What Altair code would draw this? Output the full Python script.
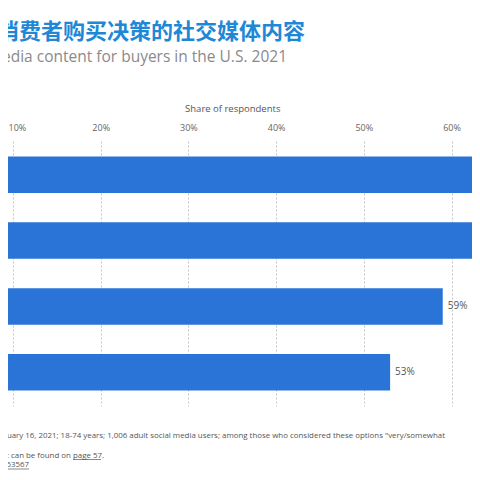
import altair as alt
import pandas as pd

# ---- data ----
categories = ["Option A", "Option B", "Option C", "Option D"]
shares = [65, 63, 59, 53]
tick_values = [0, 10, 20, 30, 40, 50, 60, 70]

title_text = "影响消费者购买决策的社交媒体内容"
subtitle_text = "Most influential social media content for buyers in the U.S. 2021"
footer_1 = ('United States; February 16, 2021; 18-74 years; 1,006 adult social media users; '
            'among those who considered these options "very/somewhat')
footer_2 = "Further information regarding this statistic can be found on page 57."
footer_3 = "https://www.statista.com/statistics/1253567"

df = pd.DataFrame({"category": categories, "share": shares})
df["label"] = [f"{v}%" for v in shares]

FONT = "Open Sans"
BAR = "#2a74d8"
FOOT = "#555555"

xscale = alt.Scale(domain=[0, 70], range=[-82.7, 531.2], nice=False, zero=True)
yscale = alt.Scale(paddingInner=0.445, paddingOuter=0.236)

base = alt.Chart(df)

bars = base.mark_bar(color=BAR, clip=True).encode(
    x=alt.X(
        "share:Q",
        scale=xscale,
        axis=alt.Axis(
            orient="top",
            values=tick_values,
            labelExpr="datum.value + '%'",
            labelAlign={"condition": {"test": "datum.value == 10", "value": "left"}, "value": "center"},
            labelOffset={"condition": {"test": "datum.value == 10", "value": -5}, "value": 0},
            grid=True,
            gridDash=[2, 2],
            gridColor="#c4c4c4",
            gridWidth=1,
            domain=False,
            ticks=False,
            tickSize=0,
            labelPadding=9,
            labelFontSize=9,
            labelColor="#666666",
            labelFont=FONT,
            title="Share of respondents",
            titleFont=FONT,
            titleFontSize=9.5,
            titleFontWeight="normal",
            titleColor="#555555",
            titlePadding=10,
        ),
    ),
    y=alt.Y("category:N", sort=categories, scale=yscale, axis=None),
)

labels = base.mark_text(
    align="left", baseline="middle", dx=5, fontSize=10, color="#555555", font=FONT
).encode(
    x=alt.X("share:Q", scale=xscale),
    y=alt.Y("category:N", sort=categories, scale=yscale),
    text="label:N",
)


def text_layer(txt, x, y, size, color, font, weight="normal", align="right", baseline="middle"):
    return alt.Chart(pd.DataFrame({"t": [txt]})).mark_text(
        align=align, baseline=baseline, fontSize=size, color=color, font=font, fontWeight=weight
    ).encode(text="t:N", x=alt.value(x), y=alt.value(y))


def underline(x1, x2, y):
    return alt.Chart(pd.DataFrame({"u": [0]})).mark_rule(color=FOOT, strokeWidth=0.7).encode(
        x=alt.value(x1), x2=alt.value(x2), y=alt.value(y)
    )


title = text_layer(title_text, 297, -109, 22, "#1e88d6", "Noto Sans CJK SC", weight="bold")
subtitle = text_layer(subtitle_text, 279, -79, 15.5, "#8a8a8a", FONT, baseline="alphabetic")
f1 = text_layer(footer_1, 437, 294.5, 7.9, FOOT, FONT)
f2 = text_layer(footer_2, 96, 314.5, 7.9, FOOT, FONT)
f3 = text_layer(footer_3, 21, 324, 7.9, FOOT, FONT)
u2 = underline(65, 93, 318.5)
u3 = underline(0, 21, 328)

chart = alt.layer(bars, labels, title, subtitle, f1, f2, f3, u2, u3).properties(
    width=464,
    height=265,
    autosize=alt.AutoSizeParams(type="none"),
    padding={"top": 133, "left": 0, "right": 0, "bottom": 64},
    background="white",
).configure_view(stroke=None)

chart.save("out.html", embed_options={"renderer": "svg", "actions": False})
